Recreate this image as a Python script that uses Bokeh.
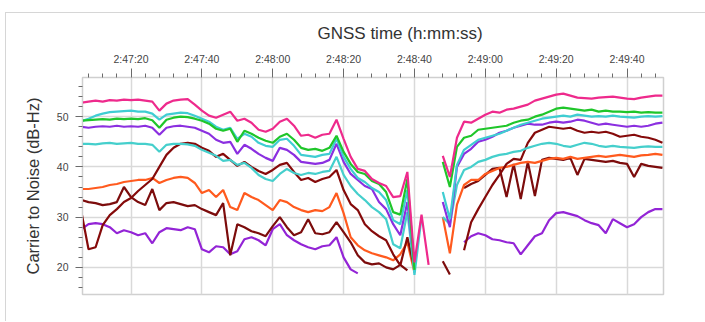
import numpy as np
from bokeh.plotting import figure
from bokeh.models import ColumnDataSource, FixedTicker, Range1d, Title
from bokeh.embed import file_html
from bokeh.resources import INLINE

# sample times, seconds after 2:47:00
t_sec = list(range(6, 171, 2))

x_ticks = [20, 40, 60, 80, 100, 120, 140, 160]
x_tick_labels = ["2:47:20", "2:47:40", "2:48:00", "2:48:20", "2:48:40",
                 "2:49:00", "2:49:20", "2:49:40"]
y_ticks = [20, 30, 40, 50]

N = None
magenta = [52.8, 53.0, 53.2, 53.0, 53.3, 53.2, 53.4, 53.3, 53.4, 53.2,
           53.0, 51.2, 52.6, 53.2, 53.4, 53.5, 52.4, 51.2, 50.2, 49.8,
           50.4, 51.0, 49.2, 49.6, 48.8, 47.4, 47.0, 47.6, 49.0, 49.6,
           48.2, 46.2, 46.4, 45.8, 46.4, 46.6, 49.4, 45.6, 42.0, 39.6,
           39.2, 37.6, 36.8, 36.2, 34.0, 34.2, 39.0, 21.0, 30.5, 20.5,
           N, 42.2, 38.0, 45.8, 49.0, 48.8, 49.6, 50.4, 51.0, 50.8,
           51.4, 51.6, 52.0, 52.4, 53.2, 53.6, 54.0, 54.4, 54.6, 54.2,
           53.8, 53.7, 53.6, 53.8, 53.9, 54.0, 53.8, 53.6, 53.5, 53.8,
           54.0, 54.2, 54.2]
green = [49.2, 49.3, 49.4, 49.5, 49.4, 49.6, 49.5, 49.6, 49.5, 49.7,
         49.3, 47.8, 49.4, 49.8, 50.0, 49.9, 49.6, 49.2, 48.6, 47.6,
         47.2, 47.6, 45.0, 47.2, 46.6, 45.8, 45.2, 44.8, 46.0, 46.6,
         45.4, 43.8, 43.4, 43.6, 43.2, 43.8, 46.2, 43.0, 40.6, 39.0,
         38.6, 37.2, 36.6, 35.0, 31.0, 30.5, 37.6, 19.5, N, N,
         N, 41.0, 36.0, 44.0, 45.8, 46.2, 47.4, 47.6, 47.8, 48.0,
         48.2, 48.8, 49.2, 49.4, 50.0, 50.4, 51.0, 51.6, 51.8, 51.6,
         51.4, 51.2, 51.4, 51.0, 51.2, 51.0, 51.0, 50.9, 51.0, 50.8,
         50.9, 50.8, 50.8]
cyan_hi = [49.1, 49.6, 50.2, 50.6, 50.9, 51.0, 51.1, 51.2, 51.0, 51.0,
           50.6, 49.4, 50.4, 50.6, 50.8, 50.7, 50.2, 49.6, 49.0, 48.0,
           47.4, 47.8, 45.6, 46.6, 46.0, 44.8, 44.2, 44.0, 45.4, 45.6,
           44.2, 42.4, 42.2, 42.0, 42.4, 42.6, 45.6, 42.0, 39.6, 37.8,
           37.0, 35.8, 35.0, 33.4, 29.4, 28.6, 35.4, 18.5, 30.0, N,
           N, 35.0, 29.6, 40.4, 43.4, 44.4, 45.4, 45.8, 46.2, 46.6,
           47.2, 47.8, 48.4, 48.8, 49.2, 49.6, 49.8, 50.0, 50.2, 50.0,
           50.4, 50.2, 50.0, 50.1, 50.0, 50.2, 50.0, 49.9, 49.8, 50.0,
           50.1, 50.0, 50.1]
purple_hi = [48.0, 47.8, 48.0, 48.1, 48.0, 48.2, 48.0, 48.1, 48.0, 48.2,
             47.8, 46.4, 47.8, 48.1, 48.2, 48.0, 47.8, 47.2, 46.6, 45.4,
             44.8, 45.0, 42.6, 44.4, 43.6, 42.6, 41.8, 41.2, 43.8, 43.4,
             42.4, 41.0, 40.8, 40.6, 40.8, 41.4, 44.6, 41.0, 38.6, 37.4,
             36.2, 35.6, 33.0, 31.6, 28.6, 26.4, 33.0, 20.0, N, N,
             N, 33.0, 28.0, 40.0, 42.6, 43.6, 45.0, 45.4, 46.0, 46.8,
             47.2, 47.8, 48.2, 48.6, 48.4, 48.4, 48.8, 49.0, 48.8, 49.0,
             49.4, 49.2, 48.8, 48.4, 48.6, 48.4, 48.2, 48.0, 48.2, 48.0,
             48.2, 48.6, 48.8]
cyan_lo = [44.6, 44.6, 44.5, 44.7, 44.8, 44.6, 44.7, 44.8, 44.6, 44.6,
           44.4, 43.0, 44.4, 44.6, 44.6, 44.5, 44.2, 43.4, 42.8, 42.2,
           41.2, 41.4, 40.4, 40.8, 39.8, 38.4, 37.6, 37.2, 38.6, 39.6,
           38.8, 38.4, 38.8, 38.6, 39.0, 39.2, 42.0, 38.4, 36.2, 34.6,
           33.4, 32.0, 31.0, 29.6, 24.6, 23.8, 31.0, 19.0, N, N,
           N, 30.0, 28.6, 36.4, 39.4, 40.0, 41.0, 41.4, 42.0, 42.4,
           42.6, 43.0, 43.2, 43.8, 44.2, 44.6, 44.8, 44.6, 44.2, 44.0,
           44.4, 44.8, 44.6, 44.2, 44.0, 44.2, 44.0, 43.9, 43.8, 44.0,
           44.1, 44.0, 44.0]
maroon_hi = [31.0, 23.6, 24.0, 28.4, 30.4, 31.6, 33.0, 33.8, 35.2, 36.4,
             37.6, 40.0, 42.4, 43.8, 44.6, 44.8, 44.6, 43.8, 43.2, 42.0,
             42.6, 41.4, 40.2, 41.0, 40.0, 39.2, 38.6, 39.4, 40.4, 40.8,
             39.0, 37.4, 37.8, 37.0, 37.6, 38.0, 39.4, 35.4, 32.6, 31.4,
             28.6, 27.2, 26.2, 25.4, 22.6, 20.4, 26.0, 19.8, N, N,
             N, N, N, N, 23.4, 29.0, 31.6, 34.0, 36.4, 38.4,
             40.6, 41.6, 41.4, 44.8, 46.8, 47.4, 48.0, 47.8, 47.6, 47.8,
             47.2, 46.8, 47.0, 46.8, 47.0, 46.6, 46.0, 46.2, 46.4, 46.0,
             45.8, 45.4, 44.8]
maroon_lo = [33.4, 33.0, 32.8, 32.4, 32.6, 33.0, 36.0, 34.0, 33.0, 32.4,
             35.6, 31.4, 32.8, 33.0, 32.6, 32.2, 32.4, 31.6, 31.0, 30.4,
             32.8, 22.4, 28.6, 28.0, 27.2, 26.8, 26.2, 28.2, 30.0, 28.0,
             26.4, 27.0, 29.6, 26.8, 26.6, 27.0, 29.0, 27.0, 25.0, 22.4,
             21.0, 20.6, 20.8, 20.0, 19.6, 20.5, 19.4, N, N, N,
             N, 21.2, 18.6, N, 35.8, 36.6, 37.2, 38.4, 39.6, 39.8,
             34.0, 40.6, 33.6, 41.0, 34.2, 41.4, 41.8, 41.6, 41.4, 41.8,
             38.4, 41.6, 41.4, 41.2, 41.0, 41.2, 40.8, 40.6, 38.0, 40.6,
             40.2, 40.0, 39.8]
orange = [35.6, 35.6, 35.8, 36.0, 36.4, 36.6, 37.0, 37.2, 37.4, 37.4,
          37.8, 36.8, 37.4, 37.8, 38.0, 37.8, 36.8, 34.8, 35.4, 34.0,
          35.4, 32.0, 31.4, 34.8, 34.0, 33.4, 32.4, 31.4, 33.4, 33.0,
          32.0, 31.4, 31.0, 31.4, 31.2, 32.0, 34.8, 30.8, 26.0, 24.4,
          23.4, 22.8, 22.4, 22.0, 21.4, 22.6, 25.0, 19.0, N, N,
          N, 30.0, 22.8, 32.5, 36.4, 37.4, 37.4, 38.6, 39.2, 39.8,
          40.0, 40.4, 40.8, 41.0, 40.8, 41.2, 41.6, 41.8, 41.6, 42.0,
          41.6, 41.8, 42.0, 42.2, 42.0, 42.2, 42.4, 42.2, 42.0, 42.3,
          42.4, 42.6, 42.4]
purple_lo = [27.6, 28.6, 28.8, 28.6, 28.0, 26.8, 27.4, 27.0, 26.4, 26.8,
             24.8, 27.0, 27.8, 27.6, 27.4, 28.0, 27.6, 23.6, 23.0, 24.2,
             24.0, 22.6, 23.2, 25.6, 26.0, 25.4, 24.4, 27.6, 28.6, 26.4,
             25.4, 24.6, 24.0, 23.6, 24.2, 24.4, 26.0, 22.0, 19.6, 18.8,
             N, N, N, N, N, N, N, N, N, N,
             N, N, N, N, 25.0, 26.2, 26.8, 26.4, 25.6, 25.4,
             25.0, 24.8, 22.6, 24.4, 26.2, 26.8, 29.4, 30.8, 31.0, 30.6,
             30.2, 29.4, 28.8, 28.4, 26.8, 29.6, 28.8, 28.0, 28.6, 30.0,
             31.0, 31.6, 31.6]

series = [
    (purple_lo, "#9324d6"),
    (maroon_lo, "#7c0c0c"),
    (orange, "#ff5a1e"),
    (maroon_hi, "#850a0a"),
    (cyan_lo, "#45cfcc"),
    (purple_hi, "#8b2fe0"),
    (cyan_hi, "#3fcdd2"),
    (green, "#1fc62a"),
    (magenta, "#ee2a8c"),
]

FONT = "Liberation Sans"

p = figure(width=703, height=309, output_backend="svg", toolbar_location=None,
           x_axis_location="above", x_range=Range1d(6.3, 170.3),
           y_range=Range1d(14.6, 57.8),
           min_border_left=76, min_border_right=46, min_border_top=64,
           min_border_bottom=28, margin=(12, 0, 0, 5),
           styles={"border-left": "1.5px solid #d6d6d6",
                   "border-top": "1.5px solid #d6d6d6",
                   "border-right": "1.5px solid #d6d6d6"})

p.title.text = "GNSS time (h:mm:ss)"
p.title.align = "left"
p.title.offset = 235
p.title.text_font = FONT
p.title.text_font_size = "17px"
p.title.text_font_style = "normal"
p.title.text_color = "#333333"
p.title.standoff = 14

ylab = Title(text="Carrier to Noise (dB-Hz)", align="center", offset=19,
             text_font=FONT, text_font_size="16.5px", text_font_style="normal",
             text_color="#333333", standoff=23)
p.add_layout(ylab, "left")

xs = np.array(t_sec, dtype=float)
for vals, col in series:
    src = ColumnDataSource(dict(x=xs, y=np.array(vals, dtype=float)))
    p.line("x", "y", source=src, line_color=col, line_width=2.2)

minor_x = [v for v in range(8, 170, 4) if v not in x_ticks]
p.xaxis.ticker = FixedTicker(ticks=x_ticks, minor_ticks=minor_x)
p.xaxis.major_label_overrides = {k: s for k, s in zip(x_ticks, x_tick_labels)}
p.yaxis.ticker = FixedTicker(ticks=y_ticks, minor_ticks=list(range(16, 58, 2)))

for ax in (p.xaxis, p.yaxis):
    ax.axis_line_color = "#cfcfcf"
    ax.major_tick_line_color = "#6a6a6a"
    ax.minor_tick_line_color = "#6a6a6a"
    ax.major_tick_in = 0
    ax.minor_tick_in = 0
    ax.minor_tick_out = 4
    ax.major_label_text_font = FONT
    ax.major_label_text_font_size = "10.5px"
    ax.major_label_text_color = "#444444"
p.xaxis.major_label_standoff = 4
p.yaxis.major_label_standoff = 7
p.xaxis.major_tick_out = 9
p.yaxis.major_tick_out = 7

p.xgrid.ticker = FixedTicker(ticks=x_ticks)
p.ygrid.ticker = FixedTicker(ticks=y_ticks)
p.grid.grid_line_color = "#d9d9d9"
p.grid.grid_line_width = 1.5
p.outline_line_color = "#d0d0d0"
p.outline_line_width = 1.5
p.background_fill_color = "white"
p.border_fill_color = "white"

open("out.html", "w").write(file_html(p, INLINE))
